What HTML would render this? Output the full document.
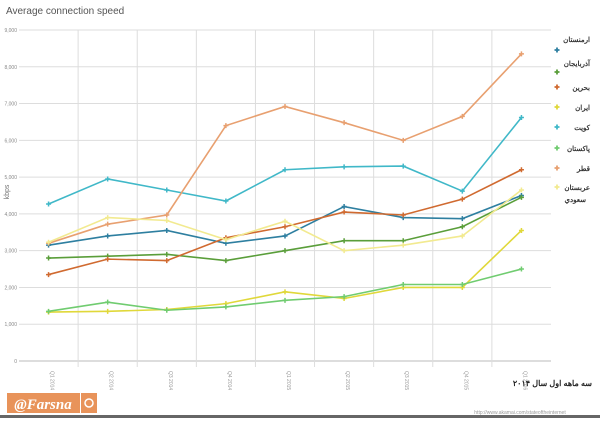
<!DOCTYPE html>
<html><head><meta charset="utf-8"><style>
body{margin:0;background:#fff;width:600px;height:418px;overflow:hidden;font-family:"Liberation Sans","Noto Sans CJK SC",sans-serif}
</style></head><body>
<svg id="chart" width="600" height="418" xmlns="http://www.w3.org/2000/svg">
<text x="6" y="14" font-size="10" fill="#555">Average connection speed</text>
<text transform="translate(9,192) rotate(-90)" font-size="7" fill="#777" text-anchor="middle">kbps</text>
<g id="grid"></g><g id="series"></g><g id="legend"></g>
<text x="592" y="386" font-size="8" font-weight="bold" fill="#222" text-anchor="start" direction="rtl">سه ماهه اول سال ۲۰۱۴</text>
<g>
<rect x="7" y="393" width="73" height="20" fill="#e8935a"/>
<rect x="81" y="393" width="16" height="20" fill="#e8935a"/>
<text x="43" y="409" font-size="15" font-weight="bold" font-style="italic" font-family="Liberation Serif,serif" fill="#fff" text-anchor="middle">@Farsna</text>
<circle cx="89" cy="403" r="4" fill="none" stroke="#fff" stroke-width="1.5"/>
</g>
<text x="520" y="414" font-size="5" fill="#999" text-anchor="middle">http://www.akamai.com/stateoftheinternet</text>
<rect x="0" y="415" width="600" height="3" fill="#666"/>
</svg>
<script>
const categories=["Q1 2014","Q2 2014","Q3 2014","Q4 2014","Q1 2015","Q2 2015","Q3 2015","Q4 2015","Q1 2016"];
const yTicks=[0,1000,2000,3000,4000,5000,6000,7000,8000,9000];
const yTickLabels=["0","1,000","2,000","3,000","4,000","5,000","6,000","7,000","8,000","9,000"];
const seriesNames=["ارمنستان","آذربایجان","بحرین","ایران","کویت","پاکستان","قطر","عربستان سعودی"];
const seriesColors=["#2e7fa0","#5a9e3a","#d06a30","#e0d83a","#40b8c8","#70cc70","#e8a070","#f2ea90"];
const armenia=[3150,3400,3550,3200,3400,4200,3900,3870,4500];
const azerbaijan=[2800,2850,2900,2730,3000,3270,3270,3650,4450];
const bahrain=[2350,2770,2730,3350,3650,4050,3970,4400,5200];
const iran=[1330,1350,1400,1560,1880,1700,2000,2000,3550];
const kuwait=[4270,4950,4650,4350,5200,5280,5300,4620,6620];
const pakistan=[1350,1600,1380,1470,1650,1750,2080,2080,2500];
const qatar=[3200,3720,3970,6400,6920,6480,6000,6650,8350];
const saudi=[3230,3900,3820,3300,3800,3000,3150,3400,4650];
const allSeries=[armenia,azerbaijan,bahrain,iran,kuwait,pakistan,qatar,saudi];
const NS="http://www.w3.org/2000/svg";
const L=19,R=551,T=30,B=361;
const bw=(R-L)/categories.length;
const x=i=>L+bw*(i+0.5);
const y=v=>B-(v/9000)*(B-T);
function mk(tag,attrs,parent){const e=document.createElementNS(NS,tag);for(const k in attrs)e.setAttribute(k,attrs[k]);parent.appendChild(e);return e;}
const grid=document.getElementById('grid');
yTicks.forEach((v,i)=>{
  const ln=mk('line',{x1:L,x2:R,y1:y(v),y2:y(v),stroke:i===0?'#bbb':'#ddd','stroke-width':1},grid);
  
  
  const t=mk('text',{x:L-2,y:y(v)+2,'font-size':5,fill:'#888','text-anchor':'end'},grid);
  t.textContent=yTickLabels[i];
  
  
});
for(let i=1;i<categories.length;i++){
  const ln=mk('line',{x1:L+bw*i,x2:L+bw*i,y1:T,y2:B+6,stroke:'#ddd','stroke-width':1},grid);
  
  
}
categories.forEach((c,i)=>{
  const t=mk('text',{transform:`translate(${x(i)+2},${B+10}) rotate(90)`,'font-size':5,fill:'#999'},grid);
  t.textContent=c;
  
  
});
const sg=document.getElementById('series');
allSeries.forEach((s,k)=>{
  const pts=s.map((v,i)=>x(i)+','+y(v)).join(' ');
  const pl=mk('polyline',{points:pts,fill:'none',stroke:seriesColors[k],'stroke-width':1.6},sg);
  
  
  s.forEach((v,i)=>{
    const m=mk('path',{d:`M${x(i)-2.5},${y(v)}h5M${x(i)},${y(v)-2.5}v5`,stroke:seriesColors[k],'stroke-width':1.5},sg);
    
    
  });
});
const lg=document.getElementById('legend');
const ly=[40,64,88,108,128,149,169,188];
const my=[50,72,87,107,127,148,168,187];
seriesNames.forEach((n,k)=>{
  const g=mk('g',{},lg);
  
  
  const t=mk('text',{x:590,y:ly[k]+2,'font-size':7,'font-weight':'bold',fill:'#333','text-anchor':'end'},g);
  if(k===7){t.textContent='عربستان';const t2=mk('text',{x:586,y:ly[k]+14,'font-size':7,'font-weight':'bold',fill:'#333','text-anchor':'end'},g);t2.textContent='سعودي';}
  else t.textContent=n;
  mk('path',{d:`M${557-2.5},${my[k]}h5M557,${my[k]-2.5}v5`,stroke:seriesColors[k],'stroke-width':1.8},g);
});
</script>
</body></html>
